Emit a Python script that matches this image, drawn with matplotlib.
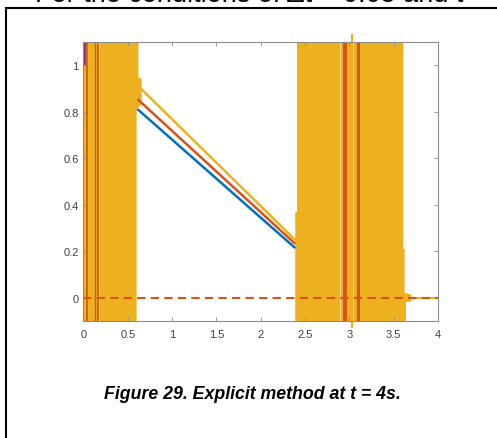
import matplotlib.pyplot as plt
from matplotlib.patches import Rectangle

# colors (MATLAB default line order)
CBLUE = (0 / 255, 114 / 255, 189 / 255)
CRED = (217 / 255, 83 / 255, 25 / 255)
CYELLOW = (237 / 255, 177 / 255, 32 / 255)
CPURPLE = (126 / 255, 47 / 255, 142 / 255)
CLIGHT = (246 / 255, 214 / 255, 140 / 255)
CAXIS = (0.55, 0.55, 0.55)
CTEXT = (0.25, 0.25, 0.25)

# smooth part of the solution between the two unstable zones
profile_x = [0.62, 2.38]
profile_blue = [0.807, 0.217]
profile_red = [0.850, 0.235]
profile_yellow = [0.909, 0.252]

# outline of the zones where the explicit solution blows up
unstable1_x = [0.0, 0.60, 0.60, 0.62, 0.657, 0.657, 0.62, 0.62, 0.0]
unstable1_y = [-0.2, -0.2, 0.80, 0.82, 0.83, 0.94, 0.95, 1.2, 1.2]
unstable2_x = [2.39, 2.39, 2.41, 2.41, 3.61, 3.61, 3.625, 3.625, 3.70, 3.70, 3.64, 3.64]
unstable2_y = [-0.2, 0.365, 0.37, 1.2, 1.2, 0.21, 0.21, 0.02, 0.015, -0.015, -0.02, -0.2]

# individual oscillating traces that show through the yellow
red_traces = [0.035, 0.125, 0.167, 2.95, 3.10]
red_widths = [1.2, 1.0, 1.2, 2.8, 2.2]
light_traces = [0.17, 2.89, 3.04]
spike_x = 3.03
purple_x = 0.005
purple_y = [1.01, 1.2]

# steady state reference
steady_x = [0, 4]
steady_y = [0, 0]
tail_x = [3.70, 4]
tail_y = [0, 0]

xticks = [0, 0.5, 1, 1.5, 2, 2.5, 3, 3.5, 4]
xticklabels = ["0", "0.5", "1", "1.5", "2", "2.5", "3", "3.5", "4"]
yticks = [0, 0.2, 0.4, 0.6, 0.8, 1]
yticklabels = ["0", "0.2", "0.4", "0.6", "0.8", "1"]

plt.rcParams['font.family'] = ['Liberation Sans', 'DejaVu Sans']

fig = plt.figure(figsize=(4.97, 4.39), dpi=100)
ax = fig.add_axes([0.168, 0.2665, 0.713, 0.636])

ax.fill(unstable1_x, unstable1_y, color=CYELLOW, lw=0)
ax.fill(unstable2_x, unstable2_y, color=CYELLOW, lw=0)
for x in light_traces:
    ax.axvline(x, color=CLIGHT, lw=0.8)
for x, w in zip(red_traces, red_widths):
    ax.axvline(x, color=CRED, lw=w)
ax.plot([purple_x, purple_x], purple_y, color=CPURPLE, lw=2)

ax.plot(profile_x, profile_blue, color=CBLUE, lw=1.8)
ax.plot(profile_x, profile_red, color=CRED, lw=1.8)
ax.plot(profile_x, profile_yellow, color=CYELLOW, lw=1.8)

ax.plot(tail_x, tail_y, color=CYELLOW, lw=1.5)
ax.plot(steady_x, steady_y, color=CRED, lw=1.5, ls=(0, (4, 2.5)))
ax.plot([spike_x, spike_x], [-0.125, 1.13], color=CYELLOW, lw=1.5, clip_on=False)

ax.set_xlim(0, 4)
ax.set_ylim(-0.1, 1.1)
ax.set_xticks(xticks)
ax.set_xticklabels(xticklabels)
ax.set_yticks(yticks)
ax.set_yticklabels(yticklabels)
ax.tick_params(direction="in", length=3, width=0.6, color=CAXIS, labelcolor=CTEXT,
               labelsize=8, top=True, right=True)
ax.tick_params(axis="x", pad=5.5)
ax.tick_params(axis="y", pad=3.5)
for s in ax.spines.values():
    s.set_color(CAXIS)
    s.set_linewidth(0.8)

# page frame and surrounding text
fig.patches.append(Rectangle((5.5 / 497, -0.1), 1.2, 1.1 - 9 / 439, transform=fig.transFigure,
                             fill=False, edgecolor="black", lw=1.5, clip_on=False))
fig.text(35 / 497, 1 - 2 / 439, "For the conditions of \u0394t = 0.05 and t", fontsize=19.5,
         ha="left", va="baseline")
fig.text(252 / 497, 1 - 395 / 439, "Figure 29. Explicit method at t = 4s.", fontsize=12.8,
         fontweight="bold", fontstyle="italic", ha="center", va="center")

fig.savefig("out.png", dpi=100)
